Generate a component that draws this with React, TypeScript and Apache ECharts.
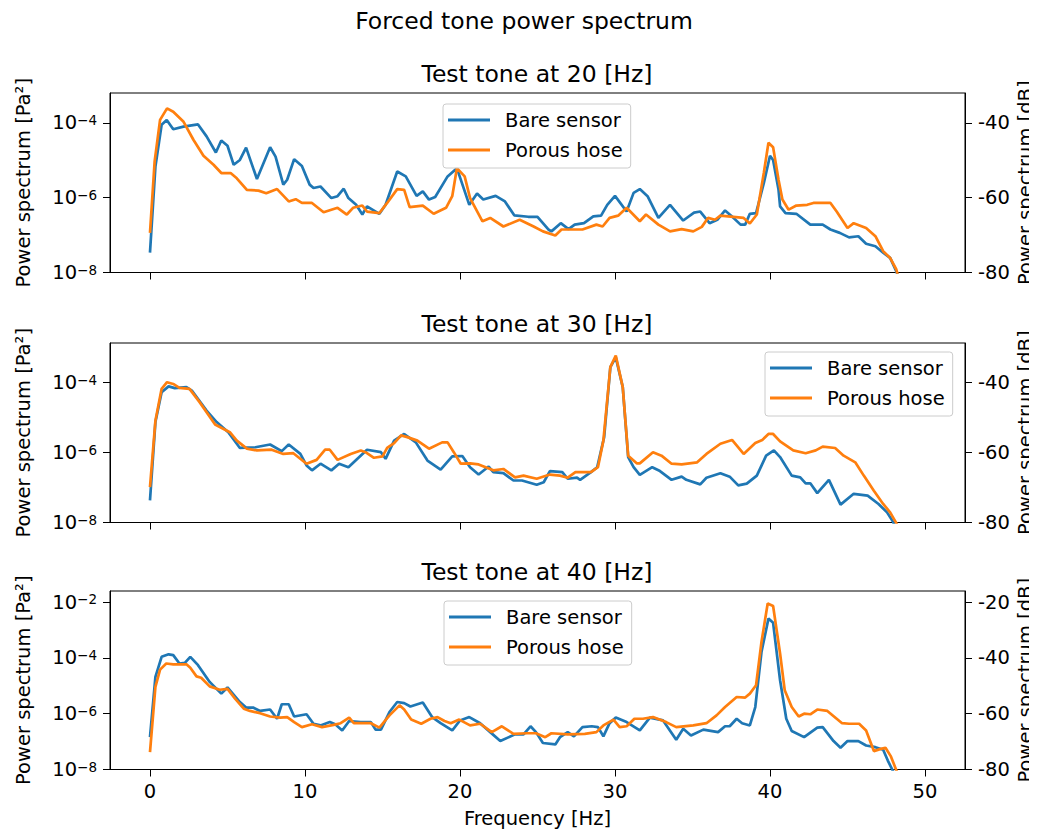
import React, { useEffect, useRef } from 'react';
import * as echarts from 'echarts';

const FONT = 'DejaVu Sans';
const BLUE = '#1f77b4';
const ORANGE = '#ff7f0e';

const SUPTITLE = 'Forced tone power spectrum';
const TITLES = ['Test tone at 20 [Hz]', 'Test tone at 30 [Hz]', 'Test tone at 40 [Hz]'];
const SERIES_NAMES = ['Bare sensor', 'Porous hose'];
const FREQ_TICKS = [0, 10, 20, 30, 40, 50];
const EXP_TICKS_AB = [-8, -6, -4];
const EXP_TICKS_C = [-8, -6, -4, -2];
const DB_TICKS_AB = [-80, -60, -40];
const DB_TICKS_C = [-80, -60, -40, -20];

// [frequency Hz, power dB]
const bare20: [number, number][] = [
  [0, -74.7], [0.35, -51.7], [0.75, -40.5], [1.08, -39.2], [1.5, -41.7], [2.16, -41], [3.1, -40.4], [3.65, -43.6],
  [4.25, -47.9], [4.6, -44.7], [5.0, -46.1], [5.4, -51.2], [5.8, -49.9], [6.2, -46.6], [6.9, -55], [7.75, -46.5],
  [8.1, -49], [8.6, -56.5], [8.85, -55.2], [9.3, -49.7], [9.8, -51.5], [10.3, -56.5], [10.55, -57.4], [11.0, -57],
  [11.7, -60.1], [12.1, -59.6], [12.5, -57.6], [12.8, -60.1], [13.3, -61.9], [13.7, -64.5], [14.0, -62.3], [14.8, -64.3],
  [15.2, -61.9], [15.95, -53], [16.5, -54.3], [17.2, -59.5], [17.6, -58.3], [18.0, -60.5], [18.4, -59.8], [19.2, -54.3],
  [19.8, -52.1], [20.6, -61.9], [21.1, -58.9], [21.5, -60.5], [22.3, -59.5], [22.9, -61], [23.5, -64.7], [24.4, -65.1],
  [25.0, -65.1], [25.7, -68.5], [25.9, -69], [26.5, -66.8], [27.0, -68.4], [27.4, -67.2], [28.0, -66.8], [28.6, -65],
  [29.1, -64.8], [29.5, -61.9], [30.0, -59.5], [30.75, -63.7], [31.2, -58.7], [31.6, -57.7], [32.1, -59.6], [32.8, -65.4],
  [33.55, -61.9], [34.4, -66.1], [35.1, -64], [35.5, -63.7], [36.1, -66.8], [36.6, -65.9], [37.1, -63.4], [37.55, -65],
  [38.1, -67.2], [38.4, -67.2], [38.7, -64.3], [39.1, -64.1], [39.6, -56.1], [40.0, -48.8], [40.2, -49.9], [40.55, -57.9],
  [40.65, -62.3], [41.0, -64.1], [41.7, -64.3], [42.6, -67.2], [43.4, -67.2], [43.9, -68.5], [44.5, -69.4], [45.1, -70.6],
  [45.7, -70.3], [46.2, -72.3], [46.8, -73], [47.3, -74.7], [47.75, -76.1], [48.15, -79.7], [48.6, -86], [49.2, -95],
];
const hose20: [number, number][] = [
  [0, -69.4], [0.3, -50.3], [0.65, -39.2], [1.1, -36.1], [1.5, -37], [2.15, -39.6], [2.8, -44.5], [3.45, -48.8],
  [4.1, -51.2], [4.6, -53.4], [5.2, -53.4], [5.6, -54.8], [6.25, -57.9], [7.0, -58.1], [7.5, -58.8], [8.2, -57.7],
  [8.95, -61], [9.4, -60.4], [9.8, -61.4], [10.45, -61.4], [11.2, -63.9], [12.1, -62.7], [12.7, -64.5], [13.1, -62.7],
  [13.7, -62.1], [14.0, -63.7], [14.8, -64.1], [15.3, -61.4], [15.95, -57.7], [16.4, -57.9], [16.75, -62.5], [17.6, -62.1],
  [18.3, -64.3], [19.1, -62.7], [19.5, -59.6], [19.8, -52.1], [20.3, -54.3], [20.65, -60.1], [21.45, -66.3], [21.95, -65.4],
  [22.8, -67.7], [23.85, -65.9], [24.75, -67.7], [25.35, -69], [26.15, -70.1], [26.55, -68.5], [27.9, -68.5], [28.8, -67.2],
  [29.2, -67.7], [29.65, -65.4], [30.2, -64.8], [30.75, -62.7], [31.6, -66.3], [32.0, -64.5], [32.8, -67.2], [33.55, -69],
  [34.3, -68.4], [35.05, -69], [35.6, -67.8], [36.0, -65.4], [36.45, -65.9], [36.8, -64.8], [38.3, -65.4], [38.7, -66.9],
  [39.15, -64.5], [39.6, -53.4], [39.9, -45.3], [40.2, -46.5], [40.55, -55.2], [40.8, -60.5], [41.2, -63.2], [41.7, -62.1],
  [42.4, -61.9], [42.8, -61.4], [43.9, -61.4], [44.3, -63.7], [45.0, -68.1], [45.4, -66.8], [46.2, -68.1], [46.8, -70.3],
  [47.3, -74.3], [47.75, -76.1], [48.15, -79.2], [48.6, -86], [49.2, -95],
];
const bare30: [number, number][] = [
  [0, -73.7], [0.35, -51.3], [0.75, -42.8], [1.2, -41.1], [1.6, -41.6], [2.35, -41.3], [2.7, -42.3], [3.65, -48],
  [4.3, -51.3], [5.05, -54.2], [5.8, -58.7], [6.8, -58.5], [7.75, -57.7], [8.5, -59.6], [8.95, -57.7], [9.7, -60.4],
  [10.1, -63.7], [10.45, -65.1], [11.0, -63.2], [11.7, -65.1], [12.2, -63.2], [12.8, -64.2], [14.0, -59.2], [14.9, -59.9],
  [15.2, -61.8], [15.75, -56.6], [16.4, -54.7], [17.15, -57.1], [17.9, -62.3], [18.75, -64.9], [19.5, -61.1], [20.15, -61],
  [20.65, -64.2], [21.2, -66.3], [21.85, -64], [22.15, -65.6], [22.8, -65.9], [23.45, -68], [24.0, -68], [24.95, -69.2],
  [25.4, -68.5], [25.8, -65.3], [26.6, -65.6], [26.95, -67.5], [27.55, -67.2], [27.75, -67.8], [28.45, -65.6], [28.85, -64.2],
  [29.3, -55.6], [29.7, -35.6], [30.05, -32.8], [30.5, -41.3], [30.85, -61.3], [31.2, -64.2], [31.6, -66.4], [32.4, -64.2],
  [32.9, -65.3], [33.65, -67.8], [34.3, -66.9], [34.6, -67.8], [35.5, -69.1], [35.9, -67.2], [36.8, -65.9], [37.4, -66.9],
  [37.95, -69.4], [38.5, -68.9], [39.15, -66.6], [39.75, -60.9], [40.25, -59.4], [40.65, -61.3], [41.4, -66.6], [41.95, -67.1],
  [42.3, -68.8], [42.6, -68.8], [43.05, -71.6], [43.8, -67.8], [44.55, -74.9], [45.4, -71.8], [46.3, -72.3], [47.0, -74.7],
  [47.55, -77.1], [47.95, -79.9], [48.4, -86], [49.0, -95],
];
const hose30: [number, number][] = [
  [0, -69.9], [0.35, -50.9], [0.75, -41.8], [1.1, -39.9], [1.5, -40.4], [1.9, -41.5], [2.55, -41.8], [3.2, -45.6],
  [4.2, -52], [5.15, -54.2], [5.6, -56.6], [6.25, -58.9], [6.9, -59.4], [7.85, -59.2], [8.6, -60.4], [9.25, -60.2],
  [10.1, -63.2], [10.75, -62.1], [11.3, -59.2], [11.6, -59.2], [12.1, -62.1], [12.95, -60.4], [13.6, -59.4], [13.9, -59.9],
  [14.45, -61.5], [15.0, -61.1], [15.3, -58.7], [15.75, -57.3], [16.2, -55.1], [16.6, -55.6], [17.25, -56.6], [18.0, -58.9],
  [18.85, -57.1], [19.2, -57.1], [19.6, -59.9], [20.05, -63.2], [20.65, -63.1], [21.2, -63.4], [22.15, -65.1], [22.8, -64.7],
  [23.55, -67.1], [24.1, -66.6], [24.95, -67.5], [25.8, -66.3], [26.45, -66.6], [26.95, -67.2], [27.45, -65.6], [28.45, -65.6],
  [28.9, -64.2], [29.25, -56.6], [29.7, -35.6], [30.05, -32.3], [30.5, -41.3], [30.85, -60.9], [31.4, -63.1], [31.6, -63.1],
  [32.45, -59.9], [33.0, -60.9], [33.65, -63.2], [34.3, -63.4], [35.3, -62.8], [35.9, -60.4], [36.8, -57.5], [37.55, -56.4],
  [38.3, -60.4], [39.05, -57.3], [39.5, -56.4], [39.9, -54.7], [40.2, -54.7], [40.65, -56.8], [41.5, -59.4], [42.3, -60.2],
  [42.95, -59.4], [43.4, -58.3], [44.2, -58.7], [44.75, -60.9], [45.5, -62.8], [46.05, -66.6], [46.7, -70.9], [47.3, -74.7],
  [47.75, -77.1], [48.15, -80.2], [48.6, -87], [49.2, -95],
];
const bare40: [number, number][] = [
  [0, -68.4], [0.35, -46.8], [0.75, -39.6], [1.2, -38.7], [1.5, -39], [1.9, -42], [2.25, -41.8], [2.6, -39.6],
  [3.1, -42.6], [3.85, -48.6], [4.6, -52.8], [5.0, -50.6], [5.8, -55.8], [6.2, -57.8], [6.65, -57.8], [7.1, -59],
  [7.75, -58.5], [8.2, -61.8], [8.5, -56.6], [8.95, -56.6], [9.3, -61], [10.1, -60.2], [10.55, -63.6], [11.0, -64.2],
  [11.6, -63], [11.95, -63.8], [12.4, -66], [12.85, -62.6], [13.6, -63], [14.25, -63], [14.55, -65.7], [14.9, -65.7],
  [15.45, -59.4], [15.95, -55.8], [16.4, -56.2], [16.8, -57.4], [17.6, -56], [18.2, -61.2], [18.75, -63.4], [19.5, -66],
  [20.0, -62.4], [20.6, -61.2], [21.3, -63.4], [21.95, -66.6], [22.6, -69.8], [23.55, -67.4], [24.1, -67.4], [24.55, -64.5],
  [24.9, -66.6], [25.35, -70.5], [26.15, -71], [26.45, -68.4], [26.95, -66.6], [27.35, -68.1], [27.9, -64.8], [28.5, -64.5],
  [28.9, -64.8], [29.25, -68.1], [29.65, -63.4], [30.05, -61.4], [30.75, -63], [31.6, -66], [32.25, -61.4], [33.1, -62.4],
  [33.95, -69.3], [34.4, -65.4], [34.9, -67.8], [35.7, -65.7], [36.65, -66.6], [37.1, -64.5], [37.4, -64.5], [37.85, -61.8],
  [38.2, -63.4], [38.7, -64.2], [39.05, -57.6], [39.45, -37.9], [39.9, -25.9], [40.2, -27.4], [40.65, -48], [41.05, -61.8],
  [41.4, -66.2], [42.2, -68.4], [43.05, -65], [43.4, -64.8], [44.1, -69.8], [44.55, -72.2], [45.0, -69.8], [45.7, -69.8],
  [46.2, -71.4], [46.8, -72], [47.3, -72.9], [47.6, -76.8], [48.0, -81.3], [48.5, -88], [49.0, -95],
];
const hose40: [number, number][] = [
  [0, -73.8], [0.35, -50.4], [0.65, -44.2], [1.05, -42], [1.5, -42.3], [2.35, -42.3], [2.6, -43.5], [3.0, -46.6],
  [3.3, -47.1], [3.85, -50.2], [4.5, -51.4], [5.0, -51.1], [5.5, -54.7], [6.05, -58.2], [6.45, -59], [7.1, -59.8],
  [7.75, -61], [8.4, -61.4], [8.85, -61.2], [9.3, -63], [9.8, -64.8], [10.45, -63.8], [11.1, -64.8], [11.85, -64],
  [12.3, -63.4], [12.85, -61.4], [13.15, -63.4], [14.25, -63.4], [14.8, -65], [15.45, -60.6], [16.1, -57], [16.4, -58.5],
  [16.85, -62.1], [17.5, -63.6], [18.1, -61.8], [18.55, -61.2], [19.0, -62.6], [19.4, -63.4], [19.95, -62.1], [20.65, -64.2],
  [21.3, -63.6], [22.05, -66.6], [22.7, -64.5], [23.45, -67.2], [24.35, -67], [24.9, -67], [25.5, -68.4], [25.9, -67],
  [26.95, -67.4], [28.05, -67.2], [28.8, -66.6], [29.25, -64.2], [29.9, -62.1], [30.3, -64.8], [30.75, -64.5], [31.25, -61.8],
  [31.8, -61.8], [32.45, -61.2], [33.3, -63], [33.95, -64.8], [35.05, -64.2], [35.9, -63.4], [36.55, -60.6], [37.1, -57.6],
  [37.85, -54], [38.4, -54.2], [38.7, -52.8], [39.1, -49.8], [39.45, -34.3], [39.85, -20.5], [40.2, -21.4], [40.65, -38.4],
  [40.95, -51.6], [41.4, -57.6], [41.85, -61], [42.2, -60], [42.6, -60.2], [43.05, -58.5], [43.7, -59], [44.65, -63.4],
  [45.1, -63.6], [45.75, -63.6], [46.2, -66], [46.7, -73.4], [47.15, -72.6], [47.45, -72.2], [47.8, -75.3], [48.2, -81],
  [48.7, -88], [49.2, -95],
];

const PANELS = [
  { title: TITLES[0], bare: bare20, hose: hose20, expMax: -3.2, expTicks: EXP_TICKS_AB, dbTicks: DB_TICKS_AB, top: 93, height: 179.5, legendLeft: 443, legendTop: 104 },
  { title: TITLES[1], bare: bare30, hose: hose30, expMax: -2.87, expTicks: EXP_TICKS_AB, dbTicks: DB_TICKS_AB, top: 343, height: 179.5, legendLeft: 765, legendTop: 352 },
  { title: TITLES[2], bare: bare40, hose: hose40, expMax: -1.6, expTicks: EXP_TICKS_C, dbTicks: DB_TICKS_C, top: 591, height: 178.5, legendLeft: 444, legendTop: 601 },
];

const GRID_LEFT = 110;
const GRID_RIGHT = 72;
const X_MIN = -2.58;
const X_MAX = 52.58;
const FS = 19.5;

export default function App() {
  const ref = useRef<HTMLDivElement>(null);
  useEffect(() => {
    if (!ref.current) return;
    const chart = echarts.init(ref.current, undefined, { renderer: 'svg' });
    const axisLine = { show: true, onZero: false, lineStyle: { color: '#000', width: 1 } };
    const tick = (vals: number[]) => ({ show: true, inside: false, length: 7, customValues: vals, lineStyle: { color: '#000', width: 1 } });

    const grid = PANELS.map((p) => ({
      left: GRID_LEFT, right: GRID_RIGHT, top: p.top, height: p.height,
      show: true, borderColor: '#000', borderWidth: 1, backgroundColor: '#fff',
      containLabel: false, outerBoundsMode: 'none',
    }));

    const xAxis = PANELS.map((p, i) => ({
      type: 'value', gridIndex: i, min: X_MIN, max: X_MAX,
      axisLine, axisTick: tick(FREQ_TICKS), splitLine: { show: false },
      axisLabel: {
        show: i === 2, customValues: FREQ_TICKS, margin: 12,
        fontSize: FS, fontFamily: FONT, color: '#000',
      },
      name: i === 2 ? 'Frequency [Hz]' : '', nameLocation: 'middle', nameGap: 39, nameMoveOverlap: false,
      nameTextStyle: { fontSize: FS, fontFamily: FONT, color: '#000' },
    }));

    const yAxis: any[] = [];
    PANELS.forEach((p, i) => {
      yAxis.push({
        type: 'value', gridIndex: i, position: 'left', min: -8, max: p.expMax,
        axisLine, axisTick: tick(p.expTicks), splitLine: { show: false },
        axisLabel: {
          customValues: p.expTicks, margin: 13,
          formatter: (v: number) => `{b|10}{s|\u2212${Math.abs(v)}}`,
          rich: {
            b: { fontSize: FS, fontFamily: FONT, color: '#000' },
            s: { fontSize: 13.5, fontFamily: FONT, color: '#000', verticalAlign: 'top' },
          },
        },
        name: 'Power spectrum [Pa\u00b2]', nameLocation: 'middle', nameRotate: 90, nameGap: 77, nameMoveOverlap: false,
        nameTextStyle: { fontSize: FS, fontFamily: FONT, color: '#000' },
      });
      yAxis.push({
        type: 'value', gridIndex: i, position: 'right', min: -80, max: p.expMax * 10,
        axisLine, axisTick: tick(p.dbTicks), splitLine: { show: false },
        axisLabel: {
          customValues: p.dbTicks, margin: 13,
          formatter: (v: number) => String(v),
          fontSize: FS, fontFamily: FONT, color: '#000',
        },
        name: 'Power spectrum [dB]', nameLocation: 'middle', nameRotate: 90, nameGap: 50, nameMoveOverlap: false,
        nameTextStyle: { fontSize: FS, fontFamily: FONT, color: '#000' },
      });
    });

    const series: any[] = [];
    PANELS.forEach((p, i) => {
      [p.bare, p.hose].forEach((d, k) => {
        series.push({
          type: 'line', name: SERIES_NAMES[k], xAxisIndex: i, yAxisIndex: i * 2 + 1,
          data: d, symbol: 'none', showSymbol: false, clip: true, z: 2 + k,
          color: k === 0 ? BLUE : ORANGE,
          lineStyle: { width: 2.7, color: k === 0 ? BLUE : ORANGE },
          emphasis: { disabled: true },
        });
      });
    });

    const legend = PANELS.map((p) => ({
      data: SERIES_NAMES, orient: 'vertical', left: p.legendLeft, top: p.legendTop,
      icon: 'rect', itemWidth: 42, itemHeight: 3, itemGap: 10,
      padding: [6, 8, 8, 5], selectedMode: false,
      backgroundColor: 'rgba(255,255,255,0.8)', borderColor: '#cccccc', borderWidth: 1, borderRadius: 3,
      textStyle: { fontSize: FS, fontFamily: FONT, color: '#000', padding: [0, 0, 0, 10] },
    }));

    const title = [
      { text: SUPTITLE, left: 524, top: 9, textAlign: 'center', padding: 0,
        textStyle: { fontSize: 23.5, fontWeight: 'normal', fontFamily: FONT, color: '#000' } },
      ...PANELS.map((p) => ({
        text: p.title, left: 537, top: p.top - 31, textAlign: 'center', padding: 0,
        textStyle: { fontSize: 23.5, fontWeight: 'normal', fontFamily: FONT, color: '#000' },
      })),
    ];

    chart.setOption({
      animation: false,
      backgroundColor: '#fff',
      textStyle: { fontFamily: FONT },
      title, legend, grid, xAxis, yAxis, series,
      tooltip: { show: false },
    } as any);
    return () => chart.dispose();
  }, []);
  return <div ref={ref} style={{ width: 1037, height: 832, margin: '-8px 0 0 -8px', background: '#fff' }} />;
}
